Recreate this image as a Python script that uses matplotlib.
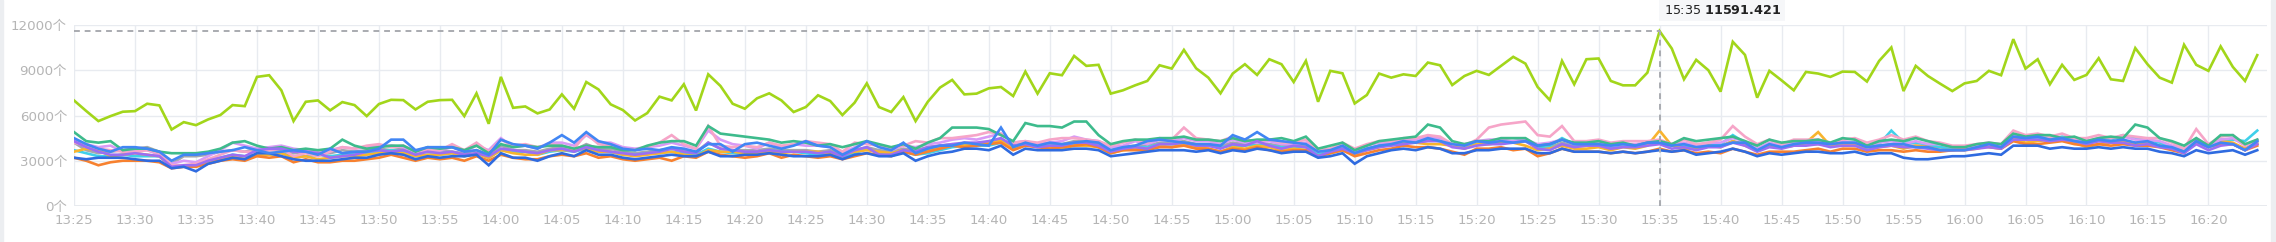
import pandas as pd
import matplotlib
matplotlib.use("Agg")
import matplotlib.pyplot as plt
import matplotlib.dates as mdates
from matplotlib.patches import Rectangle

# one value per minute, 13:25 .. 16:24
times = pd.date_range("2024-01-01 13:25", periods=180, freq="min")

lime = [7000, 6300, 5630, 5960, 6250, 6290, 6780, 6670, 5070, 5560,
        5360, 5740, 6030, 6690, 6620, 8560, 8670, 7670, 5630, 6910,
        7000, 6340, 6890, 6690, 5960, 6760, 7040, 7020, 6400, 6910,
        7020, 7040, 5960, 7470, 5450, 8560, 6510, 6600, 6140, 6400,
        7400, 6450, 8220, 7730, 6740, 6360, 5670, 6160, 7250, 7000,
        8070, 6330, 8730, 7960, 6780, 6450, 7140, 7470, 7000, 6230,
        6560, 7340, 6960, 6030, 6850, 8130, 6560, 6230, 7220, 5630,
        6910, 7850, 8360, 7400, 7450, 7800, 7890, 7290, 8910, 7450,
        8800, 8670, 9950, 9290, 9360, 7450, 7670, 8000, 8290, 9330,
        9110, 10350, 9130, 8510, 7470, 8780, 9400, 8690, 9730, 9400,
        8220, 9620, 6910, 8960, 8800, 6800, 7360, 8780, 8510, 8730,
        8620, 9510, 9330, 8020, 8620, 8960, 8690, 9290, 9890, 9440,
        7890, 7020, 9620, 8070, 9730, 9780, 8290, 8000, 8000, 8840,
        11591.421, 10440, 8400, 9690, 9000, 7580, 10890, 10020, 7180, 8960,
        8330, 7670, 8890, 8780, 8560, 8910, 8890, 8250, 9620, 10510,
        7620, 9290, 8620, 8110, 7620, 8130, 8290, 8960, 8670, 11060,
        9110, 9730, 8070, 9360, 8360, 8690, 9800, 8400, 8290, 10470,
        9400, 8510, 8180, 10690, 9360, 8960, 10580, 9220, 8290, 10000]

teal = [4900, 4300, 4200, 4300, 3700, 3800, 3800, 3600, 3500, 3500,
        3500, 3600, 3800, 4200, 4300, 4000, 3800, 3900, 3700, 3800,
        3700, 3800, 4400, 4000, 3800, 3900, 4000, 4000, 3600, 3900,
        3800, 3900, 3700, 4000, 3500, 4100, 3900, 4000, 3900, 4000,
        4000, 3800, 4000, 3900, 3900, 3700, 3700, 4000, 4200, 4300,
        4300, 4000, 5300, 4800, 4700, 4600, 4500, 4400, 4200, 4300,
        4200, 4000, 4100, 3900, 4100, 4300, 4100, 3900, 4100, 3800,
        4200, 4500, 5200, 5200, 5200, 5100, 4700, 4300, 5500, 5300,
        5300, 5200, 5600, 5600, 4700, 4100, 4300, 4400, 4400, 4500,
        4500, 4600, 4400, 4400, 4300, 4500, 4300, 4400, 4400, 4500,
        4300, 4600, 3800, 4000, 4200, 3700, 4000, 4300, 4400, 4500,
        4600, 5400, 5200, 4300, 4100, 4300, 4300, 4500, 4500, 4500,
        4000, 4100, 4400, 4200, 4200, 4300, 4100, 4200, 4000, 4200,
        4300, 4100, 4500, 4300, 4400, 4500, 4600, 4300, 4000, 4400,
        4200, 4300, 4300, 4400, 4200, 4500, 4400, 4000, 4300, 4400,
        4300, 4500, 4300, 4100, 3900, 3900, 4100, 4200, 4100, 4800,
        4600, 4700, 4700, 4500, 4600, 4300, 4500, 4600, 4500, 5400,
        5200, 4500, 4300, 4000, 4500, 4000, 4700, 4700, 4100, 4400]

pink = [4200, 4000, 3800, 3700, 3600, 3600, 3700, 3500, 2700, 2700,
        2800, 3100, 3400, 3700, 3600, 3600, 3700, 3800, 3300, 3500,
        3300, 3600, 3900, 3800, 4000, 4100, 3900, 4000, 3600, 3700,
        3700, 4100, 3700, 4200, 3600, 4400, 4000, 4100, 3900, 4100,
        4000, 3800, 4800, 4100, 4000, 3800, 3700, 3900, 4200, 4700,
        4100, 3800, 5300, 4000, 3900, 4000, 3900, 4200, 4000, 4100,
        4300, 4200, 4100, 3600, 4200, 4100, 4000, 3800, 4000, 4300,
        4200, 4500, 4500, 4600, 4700, 4900, 4800, 4200, 4300, 4200,
        4400, 4500, 4500, 4400, 4300, 4000, 4200, 4400, 4200, 4500,
        4400, 5200, 4500, 4400, 4300, 4600, 4400, 4300, 4400, 4200,
        4200, 4400, 3700, 3800, 4200, 3800, 4100, 4300, 4300, 4500,
        4500, 4700, 4600, 4100, 4000, 4400, 5200, 5400, 5500, 5600,
        4700, 4600, 5300, 4300, 4300, 4400, 4200, 4300, 4300, 4300,
        4400, 4100, 4400, 4100, 4200, 4400, 5300, 4600, 4100, 4400,
        4100, 4400, 4400, 4400, 4200, 4400, 4500, 4200, 4400, 4700,
        4400, 4600, 4300, 4200, 4000, 4000, 4100, 4200, 4100, 5000,
        4700, 4800, 4600, 4800, 4500, 4500, 4700, 4500, 4700, 4600,
        4500, 4500, 4200, 3800, 5100, 4100, 4600, 4700, 4000, 4400]

lilac = [4400, 4100, 3900, 4000, 3600, 3700, 3700, 3400, 2800, 3000,
         2900, 3300, 3700, 4200, 4000, 3800, 3900, 4000, 3800, 3700,
         3600, 3700, 3900, 3800, 3900, 4000, 4000, 3900, 3600, 3800,
         3700, 3900, 3600, 4000, 3700, 4500, 3900, 4000, 3800, 4200,
         4200, 4000, 4700, 4200, 4200, 3900, 3800, 3900, 4000, 4200,
         4000, 3800, 5000, 4400, 4100, 4000, 3800, 4200, 3900, 4100,
         4000, 4000, 3900, 3500, 3900, 4200, 4000, 3700, 4000, 3900,
         4100, 4200, 4400, 4500, 4400, 4600, 4800, 4200, 4300, 4100,
         4200, 4300, 4600, 4400, 4300, 3900, 4000, 4300, 4100, 4400,
         4300, 4500, 4300, 4300, 4100, 4400, 4200, 4200, 4300, 4100,
         4100, 4200, 3600, 3800, 4000, 3700, 4000, 4200, 4200, 4400,
         4400, 4600, 4500, 4100, 4100, 4300, 4400, 4400, 4300, 4400,
         4100, 4200, 4400, 4100, 4200, 4200, 4000, 4100, 4100, 4200,
         4300, 4100, 4200, 4000, 4200, 4200, 4500, 4300, 3800, 4200,
         4000, 4200, 4200, 4300, 4100, 4300, 4200, 4000, 4200, 4300,
         4100, 4300, 4100, 4100, 3900, 3900, 4000, 4100, 4000, 4700,
         4600, 4700, 4600, 4500, 4500, 4300, 4500, 4500, 4600, 4400,
         4400, 4300, 4000, 3800, 4500, 4000, 4400, 4500, 4000, 4300]

violet = [4300, 3900, 3600, 3400, 3400, 3500, 3400, 3300, 2600, 2700,
          2700, 3000, 3200, 3400, 3300, 3700, 3800, 3800, 3600, 3600,
          3500, 3200, 3300, 3400, 3600, 3700, 3600, 3700, 3400, 3600,
          3500, 3600, 3400, 3500, 3300, 3800, 3700, 3600, 3500, 3700,
          3800, 3600, 3900, 3700, 3600, 3500, 3400, 3500, 3600, 3800,
          3600, 3500, 4200, 3800, 3700, 3600, 3600, 3700, 3600, 3600,
          3600, 3500, 3600, 3300, 3700, 3900, 3400, 3400, 3700, 3600,
          3900, 4000, 4100, 4200, 4200, 4300, 4500, 4000, 4100, 3900,
          4000, 4000, 4200, 4200, 4000, 3600, 3800, 3900, 3800, 4100,
          4100, 4200, 4000, 4000, 3800, 4100, 4000, 4300, 4000, 3800,
          4000, 3900, 3300, 3600, 3800, 3500, 3700, 3900, 4000, 4100,
          4200, 4300, 4300, 3900, 3800, 4000, 4100, 4100, 4200, 4300,
          3800, 3700, 4100, 3900, 4000, 4000, 3800, 3900, 3900, 4000,
          4100, 3800, 3900, 3700, 3900, 3900, 4200, 4000, 3600, 3900,
          3800, 4000, 4000, 4100, 3900, 4000, 4000, 3700, 3900, 4000,
          3900, 3900, 3800, 3700, 3700, 3700, 3800, 3900, 3800, 4400,
          4400, 4400, 4300, 4400, 4300, 4100, 4300, 4200, 4200, 4000,
          4100, 3900, 3800, 3500, 4100, 3700, 4000, 4100, 3700, 4100]

blue = [4500, 4100, 3800, 3600, 3900, 3900, 3800, 3600, 3000, 3400,
        3400, 3500, 3600, 3700, 3900, 3700, 3500, 3600, 3700, 3600,
        3400, 3800, 3500, 3600, 3600, 3800, 4400, 4400, 3700, 3900,
        3900, 3900, 3600, 3700, 3400, 4400, 4100, 4000, 3800, 4200,
        4700, 4200, 4900, 4300, 4100, 3800, 3700, 3800, 3700, 3900,
        3800, 3600, 4100, 4100, 3600, 4100, 4200, 4000, 3800, 4000,
        4300, 4000, 3900, 3400, 3800, 4300, 3900, 3700, 4200, 3500,
        3800, 4000, 4000, 4200, 4100, 4000, 5200, 3900, 4200, 4000,
        4200, 4100, 4200, 4300, 4200, 3700, 3900, 4000, 4300, 4400,
        4300, 4200, 4100, 4100, 4000, 4700, 4400, 4900, 4400, 4300,
        4200, 4100, 3600, 3700, 4000, 3500, 3800, 4000, 4100, 4300,
        4200, 4500, 4300, 4100, 4000, 4300, 4200, 4300, 4200, 4300,
        4000, 4100, 4400, 4100, 4100, 4100, 4000, 4100, 4000, 4200,
        4200, 4000, 4100, 3900, 4000, 4000, 4200, 4200, 3700, 4100,
        3900, 4100, 4200, 4200, 4100, 4200, 4200, 3900, 4000, 4100,
        4100, 3900, 3900, 3700, 3700, 3700, 3900, 4100, 3900, 4600,
        4500, 4600, 4400, 4500, 4300, 4200, 4400, 4300, 4400, 4200,
        4300, 4000, 3900, 3600, 4300, 3900, 4200, 4100, 3700, 4300]

royal = [3200, 3100, 3200, 3200, 3200, 3100, 3000, 3000, 2500, 2600,
         2300, 2800, 3000, 3200, 3100, 3500, 3500, 3300, 3100, 3000,
         3000, 3000, 3100, 3200, 3200, 3400, 3500, 3400, 3100, 3300,
         3200, 3300, 3300, 3400, 2700, 3500, 3200, 3200, 3000, 3300,
         3500, 3300, 3700, 3400, 3400, 3200, 3100, 3200, 3300, 3400,
         3300, 3300, 3600, 3300, 3300, 3400, 3400, 3500, 3400, 3300,
         3300, 3300, 3400, 3100, 3400, 3500, 3300, 3300, 3500, 3000,
         3300, 3500, 3600, 3800, 3800, 3700, 4000, 3400, 3800, 3700,
         3700, 3700, 3800, 3800, 3700, 3300, 3400, 3500, 3600, 3700,
         3700, 3700, 3600, 3700, 3500, 3700, 3600, 3800, 3700, 3500,
         3600, 3600, 3200, 3300, 3500, 2800, 3300, 3500, 3700, 3800,
         3700, 3900, 3800, 3500, 3500, 3700, 3700, 3800, 3800, 3800,
         3500, 3500, 3800, 3600, 3600, 3600, 3500, 3600, 3500, 3600,
         3700, 3600, 3700, 3400, 3500, 3600, 3800, 3600, 3300, 3500,
         3400, 3500, 3600, 3600, 3500, 3500, 3600, 3400, 3500, 3500,
         3200, 3100, 3100, 3200, 3300, 3300, 3400, 3500, 3400, 4000,
         4000, 4000, 3800, 3900, 3800, 3800, 3900, 3800, 3900, 3800,
         3800, 3600, 3500, 3300, 3700, 3500, 3600, 3700, 3400, 3700]

orange = [3200, 3000, 2700, 2900, 3000, 3000, 3000, 2900, 2500, 2600,
          2600, 2800, 3000, 3100, 3000, 3300, 3200, 3300, 2900, 3100,
          2900, 2900, 3000, 3000, 3100, 3200, 3400, 3200, 3000, 3200,
          3100, 3200, 3000, 3300, 3000, 3400, 3200, 3100, 3100, 3300,
          3400, 3300, 3500, 3200, 3300, 3100, 3000, 3100, 3200, 3000,
          3300, 3200, 3600, 3400, 3300, 3200, 3300, 3500, 3200, 3400,
          3300, 3200, 3300, 3100, 3300, 3500, 3400, 3300, 3600, 3400,
          3600, 3800, 4000, 3900, 4000, 4100, 4200, 3700, 4000, 3900,
          3800, 3900, 4000, 4100, 3900, 3500, 3700, 3700, 3700, 3900,
          3900, 4000, 3800, 3800, 3600, 3800, 3700, 3900, 3700, 3600,
          3700, 3700, 3300, 3500, 3700, 3300, 3500, 3700, 3800, 4000,
          3900, 3900, 3800, 3600, 3400, 3800, 3800, 3900, 3700, 3800,
          3300, 3500, 3800, 3600, 3600, 3600, 3500, 3600, 3500, 3600,
          3800, 3600, 3700, 3500, 3600, 3500, 3800, 3600, 3400, 3600,
          3600, 3600, 3700, 3800, 3600, 3800, 3800, 3600, 3700, 3700,
          3600, 3700, 3600, 3600, 3700, 3800, 4000, 3900, 3800, 4300,
          4100, 4100, 4200, 4300, 4100, 4000, 4100, 4000, 4100, 4000,
          4000, 3900, 3700, 3500, 4300, 4000, 4100, 4100, 3700, 4000]

gold = [3600, 3800, 3700, 3300, 3400, 3500, 3400, 3300, 2600, 2700,
        2700, 3000, 3100, 3300, 3100, 3400, 3400, 3500, 3200, 3300,
        3100, 3200, 3300, 3300, 3400, 3500, 3600, 3500, 3300, 3400,
        3400, 3500, 3300, 3500, 3200, 3700, 3500, 3400, 3400, 3700,
        3700, 3700, 3800, 3600, 3600, 3400, 3300, 3400, 3500, 3600,
        3400, 3300, 3700, 3600, 3600, 3500, 3500, 3600, 3500, 3600,
        3600, 3600, 3500, 3400, 3600, 3700, 3600, 3500, 3700, 3600,
        3700, 3900, 4000, 4000, 4100, 4200, 4300, 3800, 4100, 4000,
        3900, 3800, 4000, 4000, 3900, 3500, 3700, 3800, 3800, 4000,
        3900, 4100, 3900, 3800, 3600, 3900, 3800, 4000, 3900, 3700,
        3800, 3700, 3300, 3500, 3700, 3400, 3700, 3900, 4100, 4300,
        4200, 4100, 4100, 4000, 3800, 4100, 4100, 4200, 4200, 4000,
        3700, 3800, 4000, 3800, 3800, 3900, 3700, 3900, 3800, 4000,
        5000, 4000, 3800, 3800, 4000, 3900, 4300, 4000, 3700, 4000,
        3900, 4000, 4200, 4900, 4000, 4000, 4100, 3700, 3900, 4000,
        3800, 4000, 3900, 3700, 3700, 3700, 3800, 4000, 3900, 4500,
        4200, 4300, 4400, 4500, 4200, 3900, 4100, 4200, 4300, 4100,
        4100, 4000, 3800, 3600, 4400, 3900, 4300, 4200, 3800, 4100]

cyan = [3700, 3500, 3300, 3300, 3400, 3300, 3300, 3300, 2700, 2700,
        2700, 3000, 3200, 3400, 3300, 3400, 3400, 3500, 3300, 3300,
        3400, 3300, 3400, 3500, 3500, 3600, 3700, 3600, 3300, 3400,
        3400, 3500, 3300, 3500, 3200, 3700, 3600, 3600, 3400, 3600,
        3700, 3600, 3800, 3600, 3600, 3400, 3400, 3500, 3500, 3600,
        3500, 3400, 3800, 3600, 3500, 3500, 3500, 3700, 3600, 3600,
        3500, 3400, 3500, 3200, 3500, 3800, 3500, 3400, 3600, 3400,
        3500, 3700, 3900, 4000, 4000, 4000, 4200, 3900, 4100, 4000,
        4000, 4000, 4100, 4200, 4000, 3600, 3800, 3900, 3900, 4100,
        4100, 4200, 4000, 4000, 3900, 4000, 4000, 4100, 4000, 3900,
        3900, 3900, 3400, 3600, 3800, 3500, 3800, 4000, 4100, 4200,
        4300, 4400, 4300, 4000, 3900, 4100, 4200, 4200, 4300, 4400,
        3900, 4000, 4500, 4100, 4100, 4100, 3900, 4000, 4000, 4100,
        4200, 4000, 4000, 3900, 4000, 4100, 4700, 4200, 3800, 4100,
        4000, 4100, 4200, 4200, 4100, 4200, 4200, 3900, 4100, 5000,
        4200, 4200, 4100, 3900, 3800, 3800, 3900, 4000, 4000, 4500,
        4500, 4500, 4400, 4600, 4500, 4300, 4400, 4400, 4700, 4500,
        4400, 4200, 3900, 3700, 4300, 4100, 4400, 4400, 4300, 5000]

grey = [4200, 3700, 3500, 3600, 3700, 3800, 3900, 3600, 2800, 3300,
        3300, 3400, 3600, 3700, 3600, 3800, 3700, 3700, 3500, 3600,
        3500, 3500, 3700, 3600, 3700, 3800, 3700, 3800, 3400, 3700,
        3700, 3600, 3500, 3700, 3400, 4000, 3700, 3700, 3600, 3800,
        3900, 3700, 4100, 3800, 3800, 3600, 3500, 3600, 3700, 3800,
        3700, 3600, 4200, 3800, 3700, 3700, 3700, 3800, 3700, 3700,
        3700, 3600, 3700, 3400, 3700, 3900, 3700, 3600, 3800, 3700,
        3900, 4000, 4100, 4100, 4100, 4200, 4400, 4000, 4200, 4000,
        4100, 4100, 4300, 4300, 4100, 3700, 3900, 4000, 4000, 4200,
        4200, 4300, 4100, 4100, 4000, 4200, 4100, 4200, 4100, 4000,
        4000, 4000, 3500, 3700, 3900, 3600, 3800, 4000, 4100, 4200,
        4200, 4400, 4300, 4000, 3900, 4100, 4100, 4200, 4200, 4300,
        3900, 3900, 4200, 4000, 4000, 4000, 3900, 4000, 4000, 4100,
        4200, 4000, 4000, 3900, 4000, 4000, 4300, 4100, 3800, 4000,
        3900, 4000, 4100, 4100, 4000, 4100, 4100, 3900, 4000, 4100,
        4000, 4000, 4000, 3900, 3800, 3800, 3900, 4000, 3900, 4600,
        4600, 4600, 4400, 4400, 4300, 4200, 4300, 4300, 4300, 4200,
        4200, 4000, 3900, 3700, 4200, 3900, 4100, 4100, 3800, 4200]

series = [
    (grey, "#a4a7ae"), (cyan, "#3fd0ea"), (gold, "#f8b42e"), (orange, "#f7812f"),
    (lilac, "#d89af6"), (pink, "#f6a5c8"), (teal, "#3dbb8c"), (violet, "#9b6ef3"),
    (royal, "#2f6be0"), (blue, "#4186f4"), (lime, "#a2d61a"),
]

yticks = [0, 3000, 6000, 9000, 12000]
ytick_labels = [f"{v}个" for v in yticks]

plt.rcParams["font.family"] = ["DejaVu Sans", "Noto Sans CJK SC"]
plt.rcParams["mathtext.fontset"] = "dejavusans"

fig = plt.figure(figsize=(22.76, 2.42), dpi=100)
ax = fig.add_axes([74 / 2276, 1 - 206 / 242, 2193 / 2276, 181 / 242])

for vals, color in series:
    ax.plot(times, vals, color=color, lw=1.9, solid_joinstyle="miter")

ax.set_ylim(0, 12000)
ax.set_xlim(times[0], times[0] + pd.Timedelta(minutes=179.8))
ax.set_yticks(yticks)
ax.set_yticklabels(ytick_labels)
ax.xaxis.set_major_locator(mdates.MinuteLocator(byminute=range(0, 60, 5)))
ax.xaxis.set_major_formatter(mdates.DateFormatter("%H:%M"))
ax.tick_params(length=0, labelsize=9.6, colors="#b5b5b5", pad=5)
ax.tick_params(axis="x", pad=6)
ax.grid(True, color="#e8ebf0", lw=1)
ax.set_axisbelow(True)
for s in ax.spines.values():
    s.set_visible(False)
ax.axhline(0, color="#e3e6eb", lw=1.2, zorder=0.5)

# crosshair at the peak
peak_t = times[130]
peak_v = lime[130]
ax.plot([times[0], peak_t], [peak_v, peak_v], color="#a9abb0", lw=1.4, ls=(0, (3, 2.5)))
ax.plot([peak_t, peak_t], [0, peak_v], color="#a9abb0", lw=1.4, ls=(0, (3, 2.5)))
ax.annotate("15:35 $\\mathbf{11591.421}$", xy=(peak_t, 1.0), xycoords=("data", "axes fraction"),
            xytext=(4, 8), textcoords="offset pixels", fontsize=9.2, color="#222222",
            ha="left", va="bottom", annotation_clip=False,
            bbox=dict(boxstyle="square,pad=0.35", fc="#f6f7f9", ec="none"))

# page borders
fig.add_artist(Rectangle((0, 0), 3 / 2276, 1, transform=fig.transFigure, color="#eceef1"))
fig.add_artist(Rectangle((2271 / 2276, 0), 5 / 2276, 1, transform=fig.transFigure, color="#eceef1"))

fig.savefig("out.png", dpi=100)
